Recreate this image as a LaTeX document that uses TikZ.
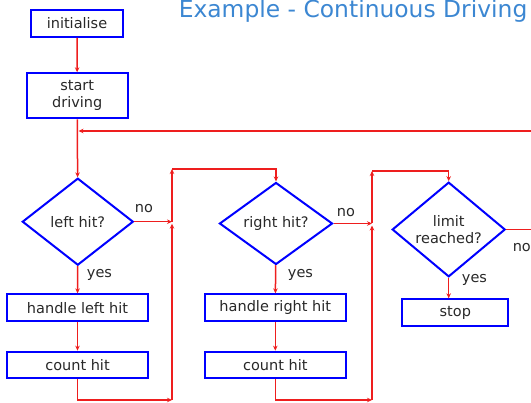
\documentclass[tikz,border=0pt]{standalone}
\usepackage{fontspec}
\setmainfont{DejaVu Sans}
\usetikzlibrary{shapes.geometric,arrows.meta}
\definecolor{myblue}{RGB}{0, 0, 255}
\definecolor{myred}{RGB}{238, 30, 30}
\definecolor{mytitle}{RGB}{60, 135, 210}
\definecolor{mytext}{RGB}{40, 40, 40}
\tikzset{every picture/.style={line width=1.5pt}}
\tikzset{
  stepbox/.style={draw=myblue, line width=2pt, rectangle, inner sep=0pt, align=center,
    text=mytext, font=\fontsize{14.5}{17}\selectfont},
  ask/.style={draw=myblue, line width=2pt, diamond, inner sep=0pt, align=center,
    text=mytext, font=\fontsize{14.5}{17}\selectfont},
  lbl/.style={anchor=base, inner sep=0pt, text=mytext, font=\fontsize{14.5}{17}\selectfont},
  flow/.style={draw=myred, line width=1.5pt, -{Stealth[length=5pt,width=4.5pt]}}
}

\begin{document}
\begin{tikzpicture}[x=1pt,y=1pt,yscale=-1,xscale=1]
\clip (0,0) rectangle (531,403);
\useasboundingbox (0,0) rectangle (531,403);

% Title
\node (title) at (178,17.8) [anchor=base west, inner sep=0pt, text=mytitle,
  font=\fontsize{23.4}{28}\selectfont] {Example - Continuous Driving};

%Shape: boxes and decisions
\node (init)   at (77,23.5)    [stepbox, minimum width=92pt, minimum height=27pt] {initialise};
\node (start)  at (77.2,95.8)  [stepbox, minimum width=101pt, minimum height=45pt] {start\\driving};
\node (lefthit) at (77.8,221.7) [ask, minimum width=111pt, minimum height=87pt] {left hit?};
\node (handleL) at (77.5,307.7) [stepbox, minimum width=140.4pt, minimum height=26.7pt] {handle left hit};
\node (countL)  at (77.5,365)   [stepbox, minimum width=140.4pt, minimum height=26.7pt] {count hit};
\node (righthit) at (276,223.5) [ask, minimum width=113pt, minimum height=82pt] {right hit?};
\node (handleR) at (275.3,307.7) [stepbox, minimum width=140.7pt, minimum height=26.7pt] {handle right hit};
\node (countR)  at (275.3,365)   [stepbox, minimum width=140.7pt, minimum height=26.7pt] {count hit};
\node (limit)  at (448.7,229.5) [ask, minimum width=113pt, minimum height=81pt] {limit\\reached?};
\node (stop)   at (455.3,312.5) [stepbox, minimum width=106pt, minimum height=26.4pt] {stop};

% Junctions
\coordinate (j1)  at (172,221.7);
\coordinate (j1b) at (172,400);
\coordinate (j1t) at (172,169);
\coordinate (j2)  at (372,223.5);
\coordinate (j2b) at (372,400);
\coordinate (j2t) at (372,171);
\coordinate (lp1) at (535,229.5);
\coordinate (lp2) at (535,131);
\coordinate (fb)  at (78.5,131);

%Straight Lines
\draw [flow] (init) -- (start);
\draw [flow] (start) -- (lefthit);
\draw [flow] (lefthit) -- (handleL);
\draw [flow] (handleL) -- (countL);
\draw [flow] (lefthit.east) -- (j1);
\draw [flow] (countL.south) |- (j1b);
\draw [flow] (j1b) -- ([yshift=2pt]j1);
\draw [flow] (j1) -- (j1t);
\draw [flow] (j1t) -| (righthit.north);
\draw [flow] (righthit) -- (handleR);
\draw [flow] (handleR) -- (countR);
\draw [flow] (righthit.east) -- (j2);
\draw [flow] (countR.south) |- (j2b);
\draw [flow] (j2b) -- ([yshift=2pt]j2);
\draw [flow] (j2) -- (j2t);
\draw [flow] (j2t) -| (limit.north);
\draw [flow] (limit.south) -- (limit.south |- stop.north);
\draw [flow] (limit.east) -- (lp1) -- (lp2) -- (fb);

% Text Node
\node (noL)  at (144,212.7) [lbl] {no};
\node (yesL) at (99.5,277.3) [lbl] {yes};
\node (noR)  at (346,216.7) [lbl] {no};
\node (yesR) at (300.5,277.3) [lbl] {yes};
\node (noT)  at (512,251.7) [lbl, anchor=base west] {no};
\node (yesT) at (474.5,282.7) [lbl] {yes};

\end{tikzpicture}
\end{document}
